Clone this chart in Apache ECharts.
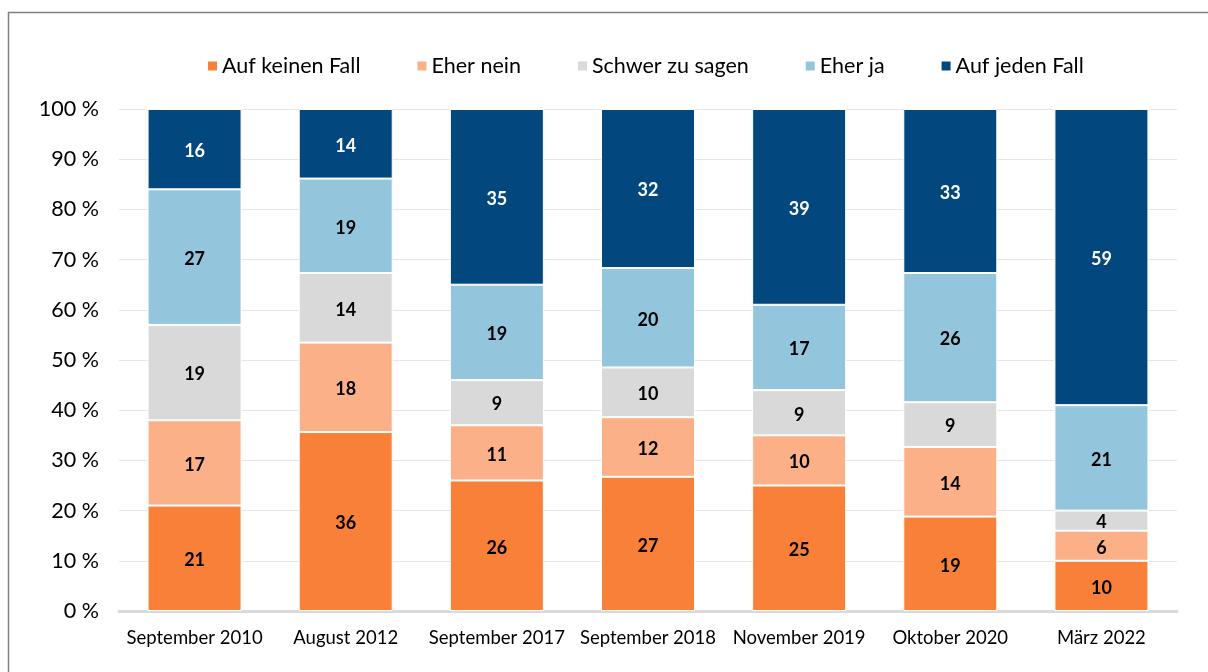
<!DOCTYPE html>
<html>
<head>
<meta charset="utf-8">
<script src="https://cdn.jsdelivr.net/npm/echarts@6/dist/echarts.min.js"></script>
<style>
  html, body { margin: 0; padding: 0; background: #fff; }
  #chart { width: 1208px; height: 672px; }
</style>
</head>
<body>
<div id="chart"></div>
<script>
const categories = ["September 2010", "August 2012", "September 2017", "September 2018", "November 2019", "Oktober 2020", "März 2022"];
const seriesNames = ["Auf keinen Fall", "Eher nein", "Schwer zu sagen", "Eher ja", "Auf jeden Fall"];
const aufKeinenFall = [21, 36, 26, 27, 25, 19, 10];
const eherNein = [17, 18, 11, 12, 10, 14, 6];
const schwerZuSagen = [19, 14, 9, 10, 9, 9, 4];
const eherJa = [27, 19, 19, 20, 17, 26, 21];
const aufJedenFall = [16, 14, 35, 32, 39, 33, 59];
const yTicks = [0, 10, 20, 30, 40, 50, 60, 70, 80, 90, 100];

const colors = ["#F98039", "#FBB088", "#D9D9D9", "#93C5DD", "#03477F"];
const allValues = [aufKeinenFall, eherNein, schwerZuSagen, eherJa, aufJedenFall];

// 100%-Stapel: jede Säule auf ihre Summe normieren, Beschriftung zeigt Originalwert
const totals = categories.map((_, i) => allValues.reduce((s, arr) => s + arr[i], 0));

const series = allValues.map((vals, k) => ({
  name: seriesNames[k],
  type: "bar",
  stack: "total",
  barWidth: 94,
  data: vals.map((v, i) => ({ value: v / totals[i] * 100, raw: v })),
  itemStyle: { color: colors[k], borderColor: "#fff", borderWidth: 1 },
  label: {
    show: true,
    position: "inside",
    offset: [0, 2],
    fontFamily: "Lato",
    fontWeight: "bold",
    fontSize: 18,
    color: k === 4 ? "#fff" : "#000",
    formatter: (p) => p.data.raw,
  },
}));

const chart = echarts.init(document.getElementById("chart"));
chart.setOption({
  animation: false,
  textStyle: { fontFamily: "Lato" },
  graphic: [
    {
      type: "rect",
      shape: { x: 8.5, y: 12.5, width: 1250, height: 700 },
      style: { fill: "none", stroke: "#7f7f7f", lineWidth: 1.5 },
      silent: true,
    },
  ],
  legend: {
    data: seriesNames,
    top: 50,
    left: 201,
    itemWidth: 11,
    itemHeight: 11,
    itemGap: 55,
    icon: "rect",
    textStyle: { fontFamily: "Lato", fontSize: 21.5, color: "#000", padding: [0, 0, 0, -1] },
  },
  grid: { left: 119, right: 31, top: 109, bottom: 61 },
  xAxis: {
    type: "category",
    data: categories,
    axisLine: { lineStyle: { color: "#d9d9d9", width: 3 } },
    axisTick: { show: false },
    axisLabel: { interval: 0, fontFamily: "Lato", fontSize: 18.5, color: "#000", margin: 18 },
  },
  yAxis: {
    type: "value",
    min: 0,
    max: 100,
    interval: 10,
    axisLine: { show: false },
    axisTick: { show: false },
    splitLine: { lineStyle: { color: "#e6e6e6", width: 1 } },
    axisLabel: {
      fontFamily: "Lato",
      fontSize: 21.5,
      color: "#000",
      margin: 20,
      formatter: (v) => (yTicks.includes(v) ? v + " %" : ""),
    },
  },
  series: series,
});
</script>
</body>
</html>
